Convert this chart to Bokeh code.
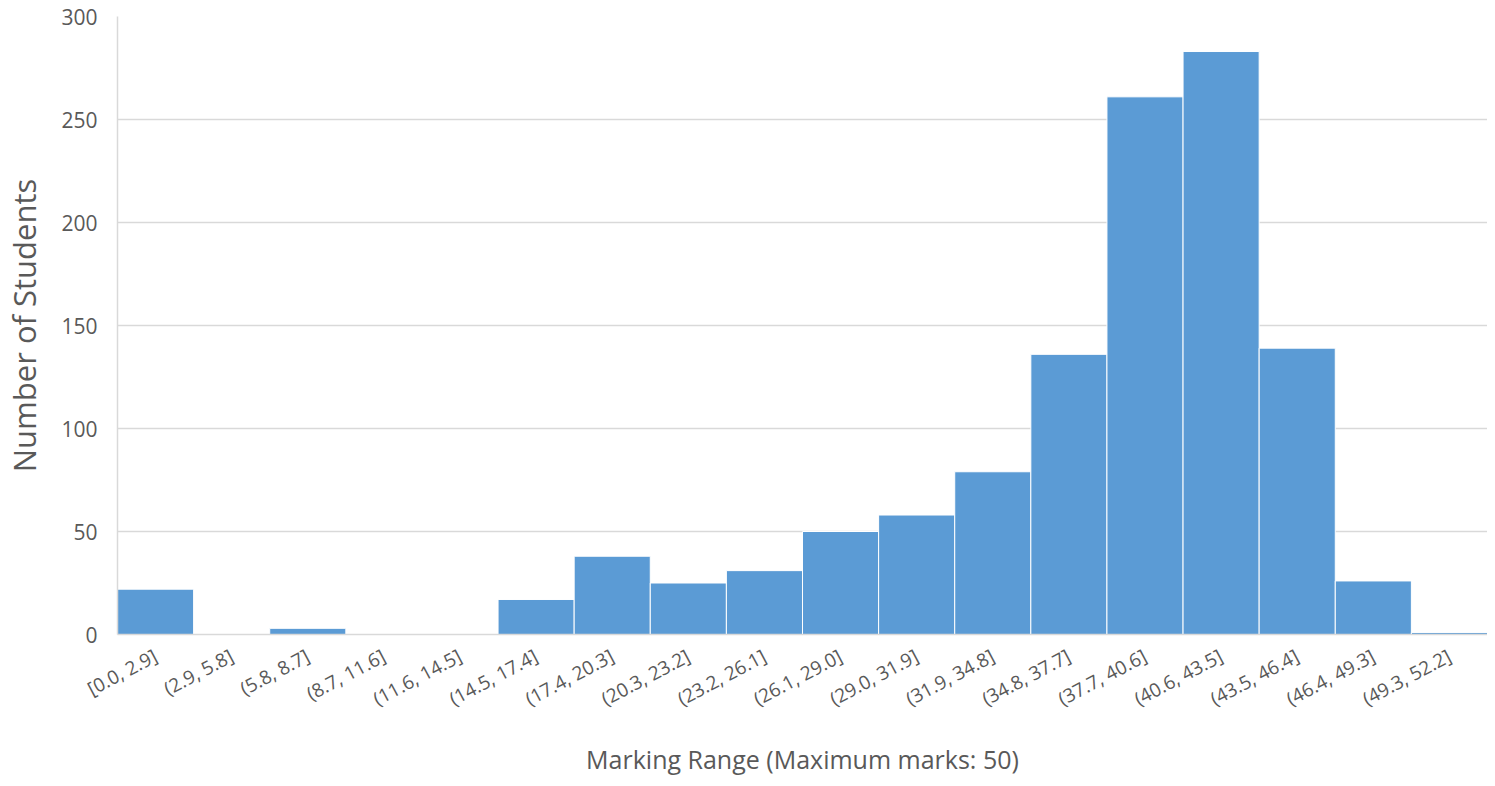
import math
from bokeh.plotting import figure
from bokeh.models import ColumnDataSource, FactorRange, Range1d, SingleIntervalTicker
from bokeh.embed import file_html
from bokeh.resources import INLINE

categories = ["[0.0, 2.9]", "(2.9, 5.8]", "(5.8, 8.7]", "(8.7, 11.6]", "(11.6, 14.5]",
              "(14.5, 17.4]", "(17.4, 20.3]", "(20.3, 23.2]", "(23.2, 26.1]", "(26.1, 29.0]",
              "(29.0, 31.9]", "(31.9, 34.8]", "(34.8, 37.7]", "(37.7, 40.6]", "(40.6, 43.5]",
              "(43.5, 46.4]", "(46.4, 49.3]", "(49.3, 52.2]"]
counts = [22, 0, 3, 0, 0, 17, 38, 25, 31, 50, 58, 79, 136, 261, 283, 139, 26, 1]

FONT = "Open Sans"
TXT = "#595959"

src = ColumnDataSource(dict(cat=categories, n=counts))

p = figure(width=1487, height=778, output_backend="svg", toolbar_location=None,
           x_range=FactorRange(*categories, range_padding=0),
           y_range=Range1d(0, 300),
           min_border_left=117, min_border_right=0, min_border_top=16, min_border_bottom=144)
p.outline_line_color = None

p.vbar(x="cat", top="n", width=1.0, source=src, fill_color="#5B9BD5",
       line_color="white", line_width=1)

p.xgrid.grid_line_color = None
p.ygrid.grid_line_color = "#d9d9d9"
p.ygrid.grid_line_width = 1.5

p.yaxis.ticker = SingleIntervalTicker(interval=50)
p.yaxis.axis_line_color = "#d9d9d9"
p.yaxis.axis_line_width = 1.5
p.yaxis.major_tick_line_color = None
p.yaxis.minor_tick_line_color = None
p.yaxis.major_label_text_font = FONT
p.yaxis.major_label_text_font_size = "21px"
p.yaxis.major_label_text_color = TXT
p.yaxis.major_label_standoff = 14
p.yaxis.axis_label = "Number of Students"
p.yaxis.axis_label_text_font = FONT
p.yaxis.axis_label_text_font_size = "31px"
p.yaxis.axis_label_text_font_style = "normal"
p.yaxis.axis_label_text_color = TXT
p.yaxis.axis_label_standoff = 13

p.xaxis.axis_line_color = "#d9d9d9"
p.xaxis.axis_line_width = 1.5
p.xaxis.major_tick_line_color = None
p.xaxis.minor_tick_line_color = None
p.xaxis.major_label_orientation = math.radians(28)
p.xaxis.major_label_text_font = FONT
p.xaxis.major_label_text_font_size = "19px"
p.xaxis.major_label_text_color = TXT
p.xaxis.major_label_standoff = 14
p.xaxis.axis_label = "Marking Range (Maximum marks: 50)"
p.xaxis.axis_label_text_font = FONT
p.xaxis.axis_label_text_font_size = "25px"
p.xaxis.axis_label_text_font_style = "normal"
p.xaxis.axis_label_text_color = TXT
p.xaxis.axis_label_standoff = 16

open("out.html", "w").write(file_html(p, INLINE))
